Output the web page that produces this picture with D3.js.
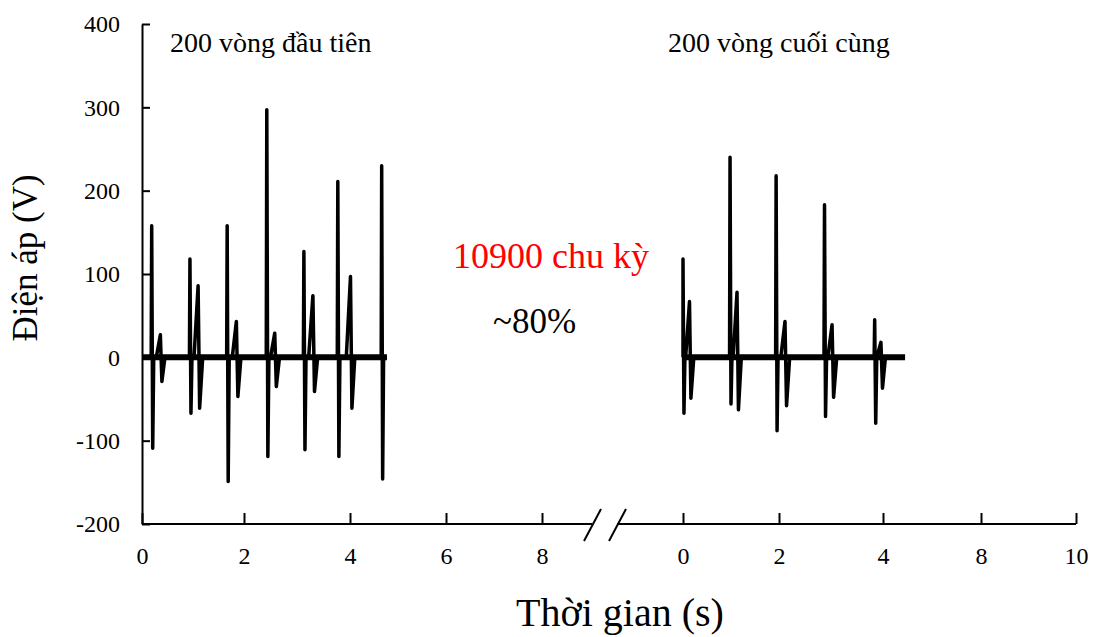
<!DOCTYPE html>
<html><head><meta charset="utf-8">
<script src="https://cdn.jsdelivr.net/npm/d3@7"></script>
<style>
body{margin:0;background:#fff}
svg text{font-family:"Liberation Serif","Times New Roman",serif !important;fill:#000}
</style>
</head><body>
<svg id="chart" width="1097" height="637"></svg>
<script>
// ---------- data ----------
const yTicks = [-200, -100, 0, 100, 200, 300, 400];
const leftTicks = [0, 2, 4, 6, 8];
const leftTickLabels = ["0", "2", "4", "6", "8"];
const rightTicks = [0, 2, 4, 6, 8];
const rightTickLabels = ["0", "2", "4", "8", "10"];

// first 200 cycles (s, V)
const firstRange = [0, 4.77];
const firstSpikeTime = [0.19, 0.94, 1.67, 2.43, 3.13, 3.77, 4.66];
const firstSpikePos  = [158, 118, 158, 297, 127, 211, 230];
const firstSpikeNeg  = [-109, -67, -149, -119, -111, -119, -146];
const firstEchoTime  = [0.36, 1.10, 1.85, 2.58, 3.30, 4.01, null];
const firstEchoPos   = [27, 86, 43, 29, 74, 97, null];
const firstEchoNeg   = [-29, -61, -47, -35, -41, -61, null];

// last 200 cycles (s, V)
const lastRange = [0, 4.45];
const lastSpikeTime = [0.0, 0.98, 1.94, 2.875, 3.84];
const lastSpikePos  = [118, 240, 218, 183, 45];
const lastSpikeNeg  = [-67, -56, -88, -71, -79];
const lastEchoTime  = [0.135, 1.125, 2.115, 3.02, 3.96];
const lastEchoPos   = [67, 78, 43, 39, 18];
const lastEchoNeg   = [-49, -63, -58, -48, -37];

const labelFirst = "200 vòng đầu tiên";
const labelLast = "200 vòng cuối cùng";
const labelCycles = "10900 chu kỳ";
const labelRetention = "~80%";
const yTitle = "Điện áp (V)";
const xTitle = "Thời gian (s)";

// ---------- scales ----------
const FONT = '"Liberation Serif","Times New Roman",serif';
const svg = d3.select("#chart");
const y = d3.scaleLinear().domain([-200, 400]).range([524, 24]);
const xLeft = d3.scaleLinear().domain(leftTicks).range([142, 244, 350, 446, 542]);
const xRight = d3.scaleLinear().domain(rightTicks).range([683, 779, 883, 981, 1076]);
const breakX = [592, 617];

// ---------- traces ----------
function tracePoints(range, st, sp, sn, et, ep, en) {
  const pts = [[range[0], 0]];
  const events = [];
  st.forEach((t, i) => events.push({t, type: "s", p: sp[i], n: sn[i]}));
  et.forEach((t, i) => { if (t !== null) events.push({t, type: "e", p: ep[i], n: en[i]}); });
  events.sort((a, b) => a.t - b.t);
  events.forEach(e => {
    if (e.type === "s") {
      pts.push([Math.max(range[0], e.t - 0.01), 0], [e.t, e.p], [e.t + 0.02, e.n], [e.t + 0.04, 0]);
    } else {
      pts.push([e.t - 0.08, 0], [e.t, e.p], [e.t + 0.03, e.n], [e.t + 0.09, 0]);
    }
  });
  pts.push([range[1], 0]);
  return pts;
}

function drawTrace(xs, range, pts) {
  svg.append("line")
    .attr("x1", xs(range[0])).attr("x2", xs(range[1]))
    .attr("y1", y(0)).attr("y2", y(0))
    .attr("stroke", "#000").attr("stroke-width", 6);
  svg.append("path")
    .datum(pts)
    .attr("fill", "none").attr("stroke", "#000").attr("stroke-width", 3.5)
    .attr("stroke-linejoin", "round")
    .attr("d", d3.line().x(d => xs(d[0])).y(d => y(d[1])));
}

drawTrace(xLeft, firstRange, tracePoints(firstRange, firstSpikeTime, firstSpikePos, firstSpikeNeg, firstEchoTime, firstEchoPos, firstEchoNeg));
drawTrace(xRight, lastRange, tracePoints(lastRange, lastSpikeTime, lastSpikePos, lastSpikeNeg, lastEchoTime, lastEchoPos, lastEchoNeg));

// ---------- axes ----------
const yAxis = svg.append("g").attr("transform", `translate(${xLeft(0)},0)`)
  .call(d3.axisLeft(y).tickValues(yTicks).tickFormat(d => String(d))
    .tickSizeInner(-8).tickSizeOuter(0).tickPadding(22));

const xaL = svg.append("g").attr("transform", `translate(0,${y(-200)})`)
  .call(d3.axisBottom(xLeft).tickValues(leftTicks).tickFormat((d, i) => leftTickLabels[i])
    .tickSizeInner(-11).tickSizeOuter(0).tickPadding(23));
xaL.select(".domain").remove();

const xaR = svg.append("g").attr("transform", `translate(0,${y(-200)})`)
  .call(d3.axisBottom(xRight).tickValues(rightTicks).tickFormat((d, i) => rightTickLabels[i])
    .tickSizeInner(-11).tickSizeOuter(0).tickPadding(23));
xaR.select(".domain").remove();

[yAxis, xaL, xaR].forEach(g => {
  g.attr("font-family", FONT).attr("font-size", 24);
  g.selectAll("text").style("font-family", FONT).style("font-size", "24px");
});

svg.selectAll(".tick line").attr("stroke-width", 2);
svg.selectAll(".domain").attr("stroke-width", 2);

// x axis baseline with break
const yb = y(-200);
svg.append("line").attr("x1", xLeft(0)).attr("x2", breakX[0]).attr("y1", yb).attr("y2", yb)
  .attr("stroke", "#000").attr("stroke-width", 2);
svg.append("line").attr("x1", breakX[1]).attr("x2", xRight(8)).attr("y1", yb).attr("y2", yb)
  .attr("stroke", "#000").attr("stroke-width", 2);
breakX.forEach(bx => {
  svg.append("line").attr("x1", bx - 8).attr("y1", yb + 17).attr("x2", bx + 9).attr("y2", yb - 15)
    .attr("stroke", "#000").attr("stroke-width", 2);
});

// ---------- texts ----------
function addText(x, yy, size, str, fill) {
  return svg.append("text").attr("x", x).attr("y", yy)
    .style("font-family", FONT).style("font-size", size + "px").style("fill", fill || "#000").text(str);
}
addText(170, 52, 28, labelFirst);
addText(668, 52, 28, labelLast);
addText(453, 268, 36, labelCycles, "#ff0000");
addText(493, 333, 35, labelRetention);
svg.append("text").attr("transform", "translate(37,258) rotate(-90)").attr("text-anchor", "middle")
  .style("font-family", FONT).style("font-size", "35px").text(yTitle);
svg.append("text").attr("x", 620).attr("y", 626).attr("text-anchor", "middle")
  .style("font-family", FONT).style("font-size", "40px").text(xTitle);
</script>
</body></html>
